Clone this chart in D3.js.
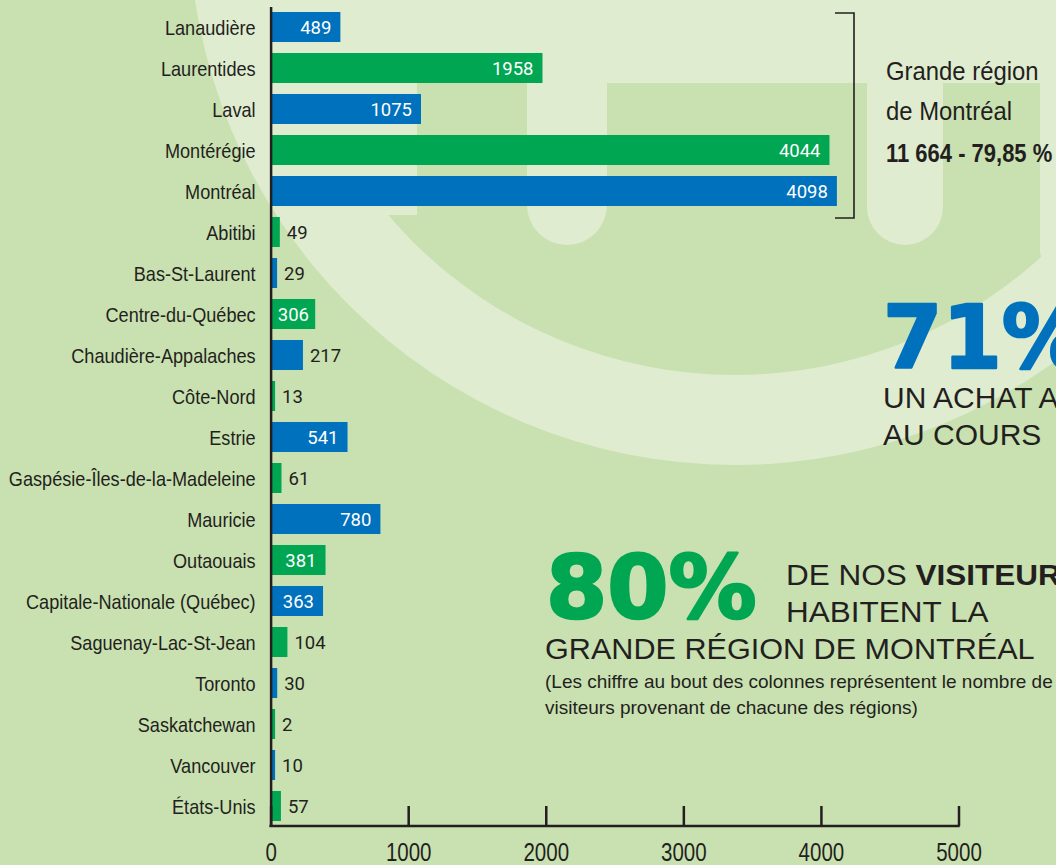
<!DOCTYPE html>
<html>
<head>
<meta charset="utf-8">
<script src="https://cdn.jsdelivr.net/npm/d3@7"></script>
<style>
  html, body { margin: 0; padding: 0; background: #c9e1b0; }
  svg { display: block; }
</style>
</head>
<body>
<svg id="chart" width="1056" height="865"></svg>
<script>
// ---------------- data ----------------
const categories = [
  "Lanaudière", "Laurentides", "Laval", "Montérégie", "Montréal",
  "Abitibi", "Bas-St-Laurent", "Centre-du-Québec", "Chaudière-Appalaches",
  "Côte-Nord", "Estrie", "Gaspésie-Îles-de-la-Madeleine", "Mauricie",
  "Outaouais", "Capitale-Nationale (Québec)", "Saguenay-Lac-St-Jean",
  "Toronto", "Saskatchewan", "Vancouver", "États-Unis"
];
const visitors = [489, 1958, 1075, 4044, 4098, 49, 29, 306, 217, 13, 541, 61, 780, 381, 363, 104, 30, 2, 10, 57];
const xTicks = [0, 1000, 2000, 3000, 4000, 5000];
const groupLines = ["Grande région", "de Montréal"];
const groupTotal = "11 664 - 79,85 %";
const bigStat1 = "71%";
const bigStat1Lines = ["UN ACHAT A", "AU COURS"];
const bigStat2 = "80%";
const note = ["(Les chiffre au bout des colonnes représentent le nombre de", "visiteurs provenant de chacune des régions)"];

// ---------------- styles ----------------
const BG = "#c9e1b0", LIGHT = "#dfecd0";
const BLUE = "#0071bc", GREEN = "#00a651", INK = "#231f20";
const SANS = "'Liberation Sans', Arial, Helvetica, sans-serif";
const ROBOTO = "Roboto, 'Liberation Sans', Arial, sans-serif";
const HEAVY = "'DejaVu Sans', Verdana, sans-serif";

const svg = d3.select("#chart");

// ---------------- background logo ----------------
const bg = svg.append("g");
bg.append("rect").attr("width", 1056).attr("height", 865).attr("fill", BG);
bg.append("circle").attr("cx", 735).attr("cy", -81).attr("r", 546).attr("fill", LIGHT);
bg.append("circle").attr("cx", 735).attr("cy", -81).attr("r", 456).attr("fill", BG);
bg.append("rect").attr("x", 285).attr("y", -20).attr("width", 132).attr("height", 235).attr("fill", LIGHT);
bg.append("rect").attr("x", 285).attr("y", -20).attr("width", 775).attr("height", 103).attr("fill", LIGHT);
bg.append("rect").attr("x", 527).attr("y", -60).attr("width", 80).attr("height", 305).attr("rx", 40).attr("fill", LIGHT);
bg.append("rect").attr("x", 867).attr("y", -60).attr("width", 76).attr("height", 305).attr("rx", 38).attr("fill", LIGHT);
bg.append("rect").attr("x", 1040).attr("y", -20).attr("width", 40).attr("height", 290).attr("rx", 20).attr("fill", LIGHT);

// ---------------- scales ----------------
const x = d3.scaleLinear().domain([0, 5000]).range([270.6, 958.5]);
const y = d3.scaleBand().domain(categories).range([6.5, 826.5])
  .paddingInner(0.268).paddingOuter(0.134);

const data = categories.map((c, i) => ({ name: c, value: visitors[i], i }));

// ---------------- bars ----------------
const barX0 = x(0) + 1;
const barEnd = d => barX0 + Math.max(x(d.value) - x(0) + 1.5, 3.5);
svg.append("g").selectAll("rect").data(data).join("rect")
  .attr("x", barX0)
  .attr("y", d => y(d.name))
  .attr("width", d => barEnd(d) - barX0)
  .attr("height", y.bandwidth())
  .attr("fill", d => d.i % 2 === 0 ? BLUE : GREEN);

// ---------------- value labels ----------------
const vl = svg.append("g").selectAll("text").data(data).join("text")
  .attr("y", d => y(d.name) + y.bandwidth() / 2 + 7)
  .attr("font-family", ROBOTO).attr("font-size", 18.5)
  .text(d => d.value);
vl.each(function (d) {
  const t = d3.select(this);
  const w = this.getComputedTextLength();
  const bw = barEnd(d) - barX0;
  if (d.value >= 300) {
    const pad = Math.min(9, (bw - w) / 2);
    t.attr("x", barEnd(d) - pad).attr("text-anchor", "end").attr("fill", "#ffffff");
  } else {
    t.attr("x", barEnd(d) + 7).attr("text-anchor", "start").attr("fill", INK);
  }
});

// ---------------- axes ----------------
const yAxis = svg.append("g").attr("transform", `translate(${x(0)},0)`)
  .call(d3.axisLeft(y).tickSize(0).tickSizeOuter(0).tickPadding(0));
yAxis.select(".domain").attr("stroke", INK).attr("stroke-width", 2.5);
yAxis.selectAll("text")
  .attr("x", null).attr("dy", null)
  .attr("transform", "translate(-15,7.5) scale(0.93,1)")
  .attr("font-family", SANS).attr("font-size", 19.5).attr("fill", INK);

const xAxis = svg.append("g").attr("transform", `translate(0,${y.range()[1] - 0.5})`)
  .call(d3.axisBottom(x).tickValues(xTicks).tickSize(-20).tickSizeOuter(0).tickFormat(d3.format("d")));
xAxis.select(".domain").attr("stroke", INK).attr("stroke-width", 2.5)
  .attr("d", `M${x(0) - 1.2},0H${x(5000) + 1.2}`);
xAxis.selectAll(".tick line").attr("stroke", INK).attr("stroke-width", 2.5);
xAxis.selectAll(".tick text")
  .attr("y", null).attr("dy", null)
  .attr("transform", "translate(0,35) scale(0.82,1)")
  .attr("font-family", SANS).attr("font-size", 25).attr("fill", INK);

// ---------------- bracket ----------------
const gTop = y(categories[0]) + 1, gBot = y(categories[4]) + y.bandwidth() + 12;
svg.append("path")
  .attr("d", `M835,${gTop}H854V${gBot}H835`)
  .attr("fill", "none").attr("stroke", INK).attr("stroke-width", 1.6);

const gt = svg.append("g").attr("font-family", SANS).attr("fill", INK);
groupLines.forEach((s, i) => {
  gt.append("text").attr("transform", `translate(886,${80 + i * 40}) scale(0.955,1)`)
    .attr("font-size", 25).text(s);
});
gt.append("text").attr("transform", "translate(886,162) scale(0.88,1)")
  .attr("font-size", 25).attr("font-weight", "bold").text(groupTotal);

// ---------------- big statements ----------------
svg.append("text").attr("transform", "translate(883,368) scale(0.97,1)")
  .attr("font-family", HEAVY).attr("font-weight", "bold").attr("font-size", 88)
  .attr("fill", BLUE).attr("stroke", BLUE).attr("stroke-width", 2.5)
  .attr("stroke-linejoin", "round").text(bigStat1);
bigStat1Lines.forEach((s, i) => {
  svg.append("text").attr("x", 883).attr("y", 408 + i * 37)
    .attr("font-family", SANS).attr("font-size", 30).attr("fill", INK).text(s);
});

svg.append("text").attr("transform", "translate(546,618) scale(1,1)")
  .attr("font-family", HEAVY).attr("font-weight", "bold").attr("font-size", 88)
  .attr("fill", GREEN).attr("stroke", GREEN).attr("stroke-width", 2.5)
  .attr("stroke-linejoin", "round").text(bigStat2);

const l1 = svg.append("text").attr("transform", "translate(786,585) scale(1.05,1)")
  .attr("font-family", SANS).attr("font-size", 30).attr("fill", INK);
l1.append("tspan").text("DE NOS ");
l1.append("tspan").attr("font-weight", "bold").text("VISITEURS");
svg.append("text").attr("transform", "translate(786,622) scale(1.05,1)")
  .attr("font-family", SANS).attr("font-size", 30).attr("fill", INK).text("HABITENT LA");
svg.append("text").attr("transform", "translate(545,659) scale(1.02,1)")
  .attr("font-family", SANS).attr("font-size", 30).attr("fill", INK).text("GRANDE RÉGION DE MONTRÉAL");

note.forEach((s, i) => {
  svg.append("text").attr("x", 545).attr("y", 688 + i * 26)
    .attr("font-family", SANS).attr("font-size", 19).attr("fill", INK).text(s);
});
</script>
</body>
</html>
